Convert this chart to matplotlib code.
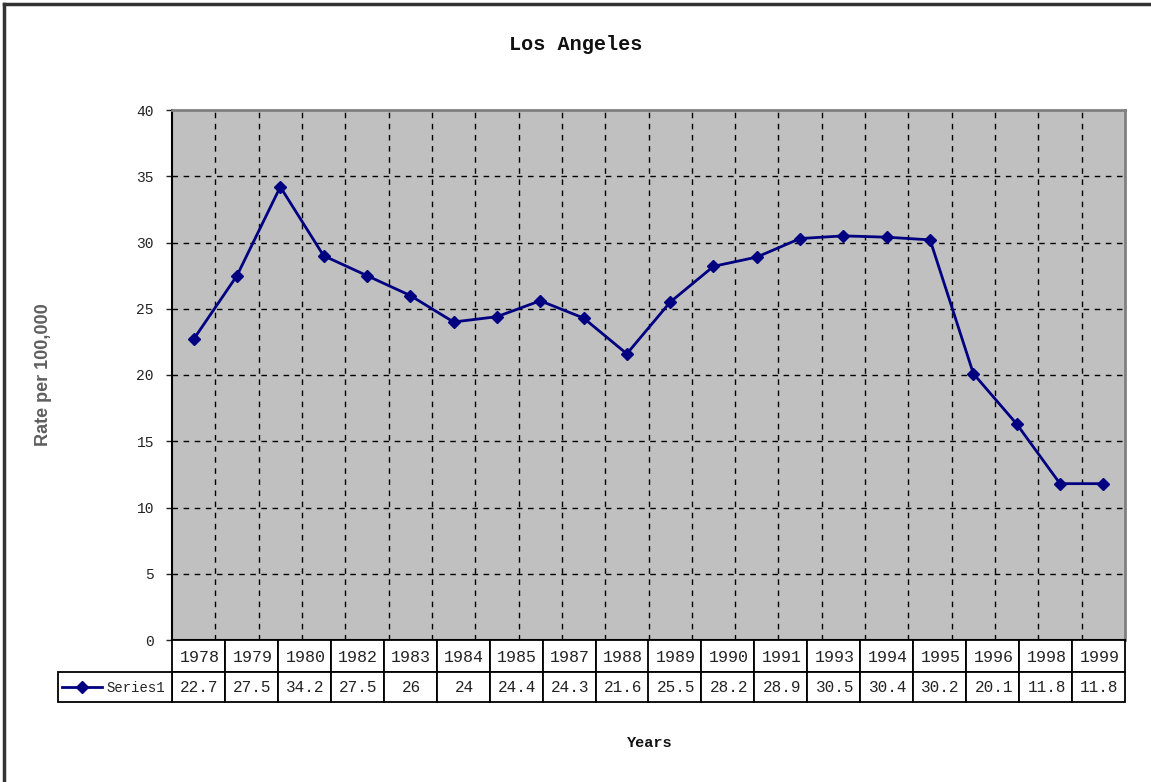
import matplotlib
matplotlib.use("Agg")
import matplotlib.pyplot as plt
from matplotlib.patches import Rectangle
from matplotlib.lines import Line2D

# ---- data ----
years = [1978, 1979, 1980, 1981, 1982, 1983, 1984, 1985, 1986, 1987, 1988,
         1989, 1990, 1991, 1992, 1993, 1994, 1995, 1996, 1997, 1998, 1999]
rates = [22.7, 27.5, 34.2, 29.0, 27.5, 26.0, 24.0, 24.4, 25.6, 24.3, 21.6,
         25.5, 28.2, 28.9, 30.3, 30.5, 30.4, 30.2, 20.1, 16.3, 11.8, 11.8]
table_years = ["1978", "1979", "1980", "1982", "1983", "1984", "1985", "1987", "1988",
               "1989", "1990", "1991", "1993", "1994", "1995", "1996", "1998", "1999"]
table_values = ["22.7", "27.5", "34.2", "27.5", "26", "24", "24.4", "24.3", "21.6",
                "25.5", "28.2", "28.9", "30.5", "30.4", "30.2", "20.1", "11.8", "11.8"]
series_name = "Series1"
yticks = [0, 5, 10, 15, 20, 25, 30, 35, 40]

W, H = 1151, 782
DPI = 100
fig = plt.figure(figsize=(W / DPI, H / DPI), dpi=DPI)
fig.patch.set_facecolor("white")

L, R, T, B = 172, 1125, 110, 640
ax = fig.add_axes([L / W, 1 - B / H, (R - L) / W, (B - T) / H])
ax.set_facecolor("#C0C0C0")

n = len(rates)
xs = list(range(n))
ax.plot(xs, rates, color="#000080", linewidth=2, marker="D", markersize=6,
        markerfacecolor="#000080", markeredgecolor="#000080", zorder=5, clip_on=False)

ax.set_xlim(-0.5, n - 0.5)
ax.set_ylim(0, 40)
ax.set_yticks(yticks)
ax.set_yticklabels([str(v) for v in yticks], fontfamily="Liberation Mono", fontsize=10.5,
                   color="#222222")
ax.tick_params(axis="y", direction="out", length=4, width=1, pad=9, colors="#222222")
ax.set_xticks([])

# gridlines
for i in range(n - 1):
    ax.axvline(i + 0.5, color="black", linestyle=(0, (4, 4)), linewidth=1, zorder=1)
for v in yticks[1:-1]:
    ax.axhline(v, color="black", linestyle=(0, (4, 4)), linewidth=1, zorder=1)

for side in ("top", "right"):
    ax.spines[side].set_color("#808080")
    ax.spines[side].set_linewidth(2)
for side in ("left", "bottom"):
    ax.spines[side].set_color("black")
    ax.spines[side].set_linewidth(1.5)

# ---- data table ----
def fx(px):
    return px / W

def fy(py):
    return 1 - py / H

ncol = len(table_years)
cw = (R - L) / ncol
r1_top, r1_bot, r2_bot = B, 672, 702
lw_tab = 1.3
for j in range(ncol):
    x0 = L + j * cw
    fig.add_artist(Rectangle((fx(x0), fy(r1_bot)), fx(cw), fy(r1_top) - fy(r1_bot),
                             transform=fig.transFigure, facecolor="white",
                             edgecolor="black", linewidth=lw_tab))
    fig.add_artist(Rectangle((fx(x0), fy(r2_bot)), fx(cw), fy(r1_bot) - fy(r2_bot),
                             transform=fig.transFigure, facecolor="white",
                             edgecolor="black", linewidth=lw_tab))
    fig.text(fx(x0 + cw / 2 + 1), fy((r1_top + r1_bot) / 2 + 1), table_years[j],
             ha="center", va="center", fontfamily="Liberation Mono", fontsize=12,
             color="#222222")
    fig.text(fx(x0 + cw / 2 + 1), fy((r1_bot + r2_bot) / 2 + 1), table_values[j],
             ha="center", va="center", fontfamily="Liberation Mono", fontsize=11.5,
             color="#222222")

# legend cell
lx0 = 58
fig.add_artist(Rectangle((fx(lx0), fy(r2_bot)), fx(L - lx0), fy(r1_bot) - fy(r2_bot),
                         transform=fig.transFigure, facecolor="white",
                         edgecolor="black", linewidth=lw_tab))
ly = (r1_bot + r2_bot) / 2
fig.add_artist(Line2D([fx(62), fx(102)], [fy(ly), fy(ly)], transform=fig.transFigure,
                      color="#000080", linewidth=2))
fig.add_artist(Line2D([fx(82)], [fy(ly)], transform=fig.transFigure, color="#000080",
                      marker="D", markersize=6, linestyle="none"))
fig.text(fx(106), fy(ly + 1), series_name, ha="left", va="center",
         fontfamily="Liberation Mono", fontsize=10, color="#222222")

# titles
fig.text(fx(576), fy(44), "Los Angeles", ha="center", va="center",
         fontfamily="Liberation Mono", fontweight="bold", fontsize=14.5, color="#111111")
fig.text(fx(650), fy(743), "Years", ha="center", va="center",
         fontfamily="Liberation Mono", fontweight="bold", fontsize=11, color="#111111")
fig.text(fx(43), fy(375), "Rate per 100,000", ha="center", va="center", rotation=90,
         fontfamily="Liberation Sans", fontweight="bold", fontsize=13, color="#5e5e5e")

# outer border (left and top)
fig.add_artist(Line2D([fx(4), fx(4)], [fy(4), 0], transform=fig.transFigure,
                      color="#333333", linewidth=2.5))
fig.add_artist(Line2D([fx(4), 1], [fy(4), fy(4)], transform=fig.transFigure,
                      color="#333333", linewidth=2.5))

fig.savefig("out.png", dpi=DPI)
